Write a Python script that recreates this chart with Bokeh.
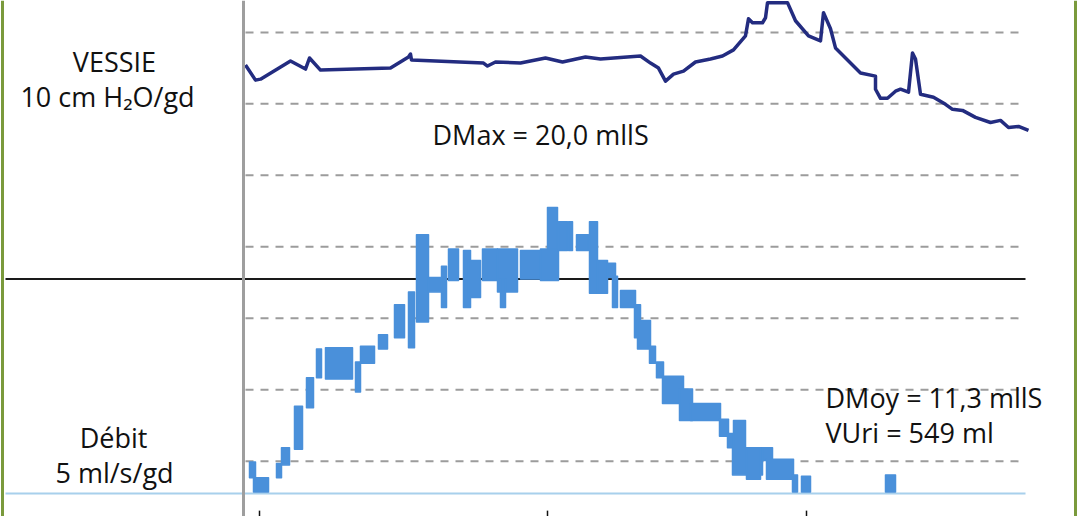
from bokeh.plotting import figure
from bokeh.models import Range1d, Span, Label
from bokeh.embed import file_html
from bokeh.resources import INLINE

# ---- Data ----
# Bladder pressure (VESSIE), time in s, pressure in cmH2O
pres_t = [0.2, 1.2, 1.7, 4.7, 6.2, 6.6, 7.7, 14.7, 16.5, 16.7, 16.8, 24.0, 24.4, 25.2,
          27.7, 30.2, 31.9, 34.2, 35.7, 39.7, 40.7, 41.5, 42.2, 43.0, 44.0, 45.2, 46.7,
          47.9, 49.0, 50.2, 50.5, 50.9, 51.9, 52.2, 52.4, 54.4, 55.2, 56.5, 57.7, 58.0,
          58.7, 59.2, 61.7, 63.2, 63.2, 63.7, 64.4, 65.2, 65.7, 66.5, 66.9, 67.2, 67.7,
          69.0, 70.2, 70.9, 71.9, 73.2, 74.7, 75.7, 76.5, 77.5, 78.5]
pres_v = [35.42, 33.31, 33.45, 35.99, 34.86, 36.41, 34.72, 35.00, 36.55, 36.97, 36.13,
          35.70, 35.28, 35.85, 35.70, 36.41, 35.85, 36.55, 36.27, 36.69, 35.70, 35.00,
          33.17, 34.15, 34.58, 35.85, 36.27, 36.69, 37.54, 39.51, 41.90, 41.34, 41.34,
          42.04, 44.15, 44.15, 41.62, 39.51, 38.80, 42.75, 40.49, 37.82, 34.30, 33.87,
          32.04, 30.77, 30.77, 31.76, 32.04, 31.62, 37.11, 36.27, 31.34, 30.92, 29.93,
          29.23, 29.08, 28.10, 27.39, 27.68, 26.69, 26.83, 26.27]

# Flow (Débit): min/max envelope per time bin, time in s, flow in ml/s
flow_t0 = [0.6, 1.0, 3.3, 3.8, 5.1, 6.3, 7.3, 8.2, 11.2, 11.7, 13.5, 15.1, 16.5, 17.3, 18.5,
           19.8, 20.5, 22.0, 22.5, 23.9, 25.4, 25.7, 27.7, 29.7, 30.4, 31.5, 32.5, 33.3, 34.6,
           35.4, 36.4, 36.9, 37.7, 39.1, 39.4, 40.6, 41.3, 41.9, 43.6, 44.7, 47.6, 48.4, 49.0,
           48.9, 50.3, 51.9, 52.3, 54.9, 55.8, 64.2]
flow_t1 = [1.2, 2.5, 3.8, 4.6, 5.9, 7.0, 7.8, 10.9, 11.7, 13.1, 14.4, 16.1, 17.1, 18.5, 20.0,
           20.3, 21.5, 22.7, 23.7, 25.4, 27.4, 26.2, 29.7, 31.5, 31.4, 32.4, 32.9, 34.5, 35.4,
           36.4, 37.2, 37.4, 39.2, 39.7, 40.7, 41.2, 42.0, 44.0, 44.9, 47.7, 48.5, 49.0, 50.2,
           51.9, 51.7, 52.9, 55.0, 55.4, 56.7, 65.2]
flow_lo = [1.1, 0.1, 1.1, 2.0, 3.1, 6.0, 8.1, 8.0, 7.1, 9.1, 10.1, 10.9, 10.2, 12.0, 14.1,
           13.0, 14.9, 13.0, 13.7, 14.9, 14.1, 13.0, 15.0, 14.9, 17.1, 17.0, 17.0, 17.0, 14.0,
           14.0, 15.1, 13.0, 13.0, 10.9, 10.1, 9.1, 8.1, 6.3, 5.1, 5.1, 4.0, 3.2, 3.2,
           1.3, 1.0, 2.3, 1.0, 0.1, 0.1, 0.1]
flow_hi = [2.2, 1.1, 2.1, 3.2, 6.1, 8.1, 10.1, 10.2, 9.2, 10.3, 11.1, 13.2, 14.1, 18.1, 15.1,
           15.9, 17.1, 17.0, 16.3, 17.1, 17.1, 15.0, 17.0, 17.1, 20.0, 19.0, 19.0, 18.1, 19.0,
           16.3, 16.1, 15.2, 14.2, 13.2, 12.1, 10.3, 9.2, 8.2, 7.3, 6.3, 5.2, 4.2, 5.1,
           3.2, 3.2, 3.2, 2.4, 1.3, 1.2, 1.3]

grid_flow = [2.25, 7.25, 12.25, 17.25, 22.25, 27.25, 32.25]
ref_flow = 15.0
event_t = [1.6, 30.4, 56.3]

labels = {
    "vessie": "VESSIE",
    "vessie_unit": "10 cm H\u2082O/gd",
    "dmax": "DMax = 20,0 mllS",
    "debit": "Débit",
    "debit_unit": "5 ml/s/gd",
    "dmoy": "DMoy = 11,3 mllS",
    "vuri": "VUri = 549 ml",
}

# ---- Figure ----
p = figure(width=1078, height=516, output_backend="svg", toolbar_location=None,
           x_range=Range1d(-24.3, 83.5), y_range=Range1d(-1.61, 34.48),
           x_axis_location=None, y_axis_location=None, min_border=0,
           outline_line_color=None, background_fill_color="white",
           border_fill_color="white")
p.grid.visible = False
p.extra_y_ranges = {"pres": Range1d(-27.72, 44.45)}

t_left, t_grid0, t_right = -23.8, 0.2, 78.2

# dashed grid
p.segment(x0=[t_grid0] * len(grid_flow), x1=[t_right] * len(grid_flow),
          y0=grid_flow, y1=grid_flow, line_color="#9c9c9c", line_width=2,
          line_dash="8 7")

# baseline (0 ml/s) and reference line 15 ml/s
p.segment(x0=[t_left], x1=[t_right], y0=[0], y1=[0], line_color="#a8d0ec", line_width=2)
p.segment(x0=[t_left], x1=[t_right], y0=[ref_flow], y1=[ref_flow],
          line_color="#1a1a1a", line_width=2)

# vertical time-zero axis
p.add_layout(Span(location=0, dimension="height", line_color="#9e9e9e", line_width=3))
# green frame borders
p.add_layout(Span(location=-24.1, dimension="height", line_color="#7a9a3c", line_width=3))
p.add_layout(Span(location=83.2, dimension="height", line_color="#7a9a3c", line_width=3))

# event ticks at the bottom
p.segment(x0=event_t, x1=event_t, y0=[-1.2] * len(event_t), y1=[-1.61] * len(event_t),
          line_color="#111111", line_width=1.5)

# flow trace
p.quad(left=flow_t0, right=flow_t1, bottom=flow_lo, top=flow_hi,
       fill_color="#4a90da", line_color="#4a90da", line_width=1.5, line_join="round")

# pressure trace
p.line(pres_t, pres_v, y_range_name="pres", line_color="#232c80", line_width=3.5,
       line_join="round")

font = "Open Sans"
fs = "27px"
def lab(x, y, key, align="center"):
    p.add_layout(Label(x=x, y=y, text=labels[key], text_font=font, text_font_size=fs,
                       text_color="#111111", text_align=align, text_baseline="alphabetic"))

lab(-12.9, 30.2, "vessie")
lab(-13.6, 27.8, "vessie_unit")
lab(18.9, 25.1, "dmax", "left")
lab(-13.0, 3.9, "debit")
lab(-12.9, 1.5, "debit_unit")
lab(58.2, 6.7, "dmoy", "left")
lab(58.2, 4.3, "vuri", "left")

open("out.html", "w").write(file_html(p, INLINE))
